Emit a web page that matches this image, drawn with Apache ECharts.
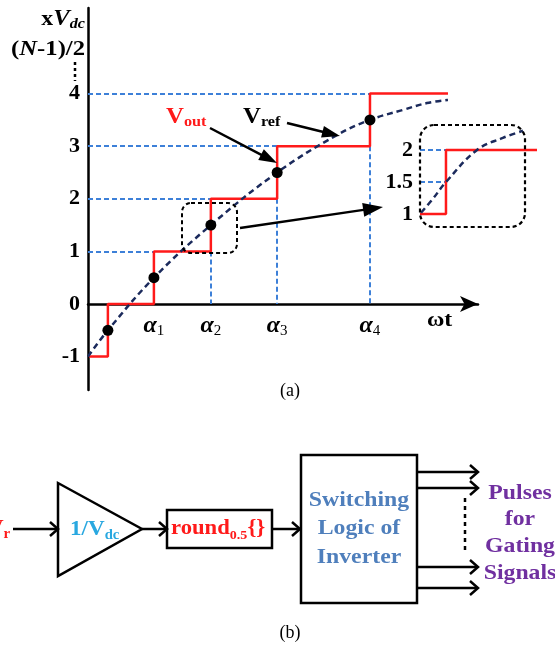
<!DOCTYPE html>
<html><head><meta charset="utf-8">
<script src="https://cdn.jsdelivr.net/npm/echarts@6/dist/echarts.min.js"></script>
<style>html,body{margin:0;padding:0;background:#fff;}#c{width:555px;height:654px;}</style>
</head><body><div id="c"></div>
<script>
// ---- data ----
const stepX = [0.3, 5.1, 16.9, 31.5, 48.5, 72.3, 92.3];   // Vout switching angles (ωt units)
const stepY = [-1, 0, 1, 2, 3, 4, 4];                     // Vout levels
const refX = [0, 5.1, 16.9, 31.5, 48.5, 63.8, 72.3, 80.8, 86.9, 92.3];
const refY = [-1, -0.5, 0.5, 1.5, 2.5, 3.21, 3.5, 3.69, 3.82, 3.88];
const dotX = [5.1, 16.9, 31.5, 48.5, 72.3];
const dotY = [-0.5, 0.5, 1.5, 2.5, 3.5];
const yTicks = [-1, 0, 1, 2, 3, 4];
const alphaX = [16.9, 31.5, 48.5, 72.3];
const alphaNames = ['1', '2', '3', '4'];
const insetStepX = [0, 22.2, 100];
const insetStepY = [1, 2, 2];
const insetRefX = [0.9, 11.1, 22.2, 48.7, 70.9, 88];
const insetRefY = [1.02, 1.24, 1.5, 2.0, 2.19, 2.3];
const insetTicks = [1, 1.5, 2];

const SERIF = '"Liberation Serif","Times New Roman",serif';
const BLUE = '#3d80d8', NAVY = '#1b2a5c', RED = '#ff1a1a', BLACK = '#000';
const zip = (a, b) => a.map((v, i) => [v, b[i]]);

// guide lines derived from the staircase
const guides = [];
for (let k = 1; k < stepY.length; k++) {
  const lvl = stepY[k];
  if (lvl <= 0 || lvl === stepY[k - 1]) continue;
  guides.push({ coords: [[0, lvl], [stepX[k], lvl]] });
  if (lvl - 1 > 0) guides.push({ coords: [[stepX[k], lvl - 1], [stepX[k], 0]] });
}
const insetGuides = [];
for (let k = 1; k < insetStepY.length; k++) {
  if (insetStepY[k] === insetStepY[k - 1]) continue;
  const mid = (insetStepY[k] + insetStepY[k - 1]) / 2;
  insetGuides.push({ coords: [[0, insetStepY[k]], [insetStepX[k], insetStepY[k]]] });
  insetGuides.push({ coords: [[0, mid], [insetStepX[k], mid]] });
}

// ---- drawing helpers for annotations ----
function filledArrow(x1, y1, x2, y2, len, hw) {
  const dx = x2 - x1, dy = y2 - y1, L = Math.hypot(dx, dy), ux = dx / L, uy = dy / L;
  const bx = x2 - ux * len, by = y2 - uy * len;
  return [
    { type: 'line', z: 100, shape: { x1, y1, x2: bx + ux * 2, y2: by + uy * 2 }, style: { stroke: BLACK, lineWidth: 2.5 } },
    { type: 'polygon', z: 100, shape: { points: [[x2, y2], [bx - uy * hw, by + ux * hw], [bx + uy * hw, by - ux * hw]] }, style: { fill: BLACK } }
  ];
}
function chevArrow(x1, x2, y) {
  return [
    { type: 'line', z: 100, shape: { x1, y1: y, x2: x2 - 1, y2: y }, style: { stroke: BLACK, lineWidth: 2.5 } },
    { type: 'polyline', z: 100, shape: { points: [[x2 - 8, y - 7], [x2, y], [x2 - 8, y + 7]] }, style: { stroke: BLACK, lineWidth: 2.5, fill: null } }
  ];
}
function txt(x, y, text, opt, sx) {
  return { type: 'text', z: 100, x, y, scaleX: sx || 1.08, style: Object.assign({
    text, fill: BLACK, fontFamily: SERIF, fontSize: 22, fontWeight: 'bold', align: 'left', verticalAlign: 'middle'
  }, opt || {}) };
}
const big = (fs, color, italic) => ({ fontSize: fs, fontWeight: 'bold', fontStyle: italic ? 'italic' : 'normal', fontFamily: SERIF, fill: color, color: color, lineHeight: 26 });
const sub = (fs, color, italic) => ({ fontSize: fs, fontWeight: 'bold', fontStyle: italic ? 'italic' : 'normal', fontFamily: SERIF, fill: color, color: color, verticalAlign: 'bottom', lineHeight: fs });

const graphics = [];
// y-axis title
graphics.push(txt(85, 19, '{x|x}{v|V}{s|dc}', { align: 'right', rich: { x: big(22, BLACK), v: big(23, BLACK, true), s: sub(15, BLACK, true) } }));
graphics.push(txt(85, 49, '{a|(}{n|N}{a|-1)/2}', { align: 'right', rich: { a: big(22, BLACK), n: big(22, BLACK, true) } }, 1.12));
graphics.push({ type: 'line', z: 100, shape: { x1: 75, y1: 62, x2: 75, y2: 81 }, style: { stroke: BLACK, lineWidth: 2.5, lineDash: [3, 3] } });
// labels
graphics.push(txt(166, 117, '{v|V}{s|out}', { rich: { v: big(23, RED), s: sub(15, RED) } }));
graphics.push(txt(243, 117, '{v|V}{s|ref}', { rich: { v: big(23, BLACK), s: sub(15, BLACK) } }));
graphics.push(...filledArrow(210, 128, 277, 163, 18, 6));
graphics.push(...filledArrow(287, 123, 340, 136, 18, 6));
graphics.push(...filledArrow(240, 228, 383, 207, 20, 7));
graphics.push(txt(427, 320, 'ωt', { fontSize: 22 }));
graphics.push(txt(290, 391, '(a)', { fontSize: 18, fontWeight: 'normal', align: 'center' }, 1));
// zoom boxes
graphics.push({ type: 'rect', z: 90, shape: { x: 182, y: 203, width: 55, height: 50, r: 9 }, style: { stroke: BLACK, lineWidth: 2, lineDash: [4, 3], fill: null } });
graphics.push({ type: 'rect', z: 90, shape: { x: 420, y: 125, width: 105, height: 102, r: 14 }, style: { stroke: BLACK, lineWidth: 2.2, lineDash: [4, 3], fill: null } });

// ---- block diagram (b) ----
graphics.push(txt(-13, 529, '{v|V}{s|r}', { rich: { v: big(23, RED), s: sub(15, RED) } }, 1));
graphics.push(...chevArrow(13, 58, 529));
graphics.push({ type: 'polygon', z: 95, shape: { points: [[58, 483], [58, 576], [142, 529]] }, style: { stroke: BLACK, lineWidth: 2.5, fill: '#fff' } });
graphics.push(txt(70, 529, '{v|1/V}{s|dc}', { rich: { v: big(22, '#29a8e0'), s: sub(14, '#29a8e0') } }, 1.05));
graphics.push(...chevArrow(142, 167, 529));
graphics.push({ type: 'rect', z: 95, shape: { x: 167, y: 510, width: 105, height: 38 }, style: { stroke: BLACK, lineWidth: 2.5, fill: '#fff' } });
graphics.push(txt(171, 529, '{v|round}{s|0.5}{}', { fill: RED, fontSize: 21, rich: { v: big(21, RED), s: sub(13, RED) } }, 1.08));
graphics.push(...chevArrow(272, 300, 529));
graphics.push({ type: 'rect', z: 95, shape: { x: 301, y: 455, width: 116, height: 148 }, style: { stroke: BLACK, lineWidth: 2.5, fill: '#fff' } });
['Switching', 'Logic of', 'Inverter'].forEach((t, i) => graphics.push(txt(359, 500 + i * 28.5, t, { align: 'center', fill: '#4f7fbc' })));
[472, 488, 567, 588].forEach(y => graphics.push(...chevArrow(417, 478, y)));
graphics.push({ type: 'line', z: 100, shape: { x1: 465, y1: 498, x2: 465, y2: 553 }, style: { stroke: BLACK, lineWidth: 2.5, lineDash: [4, 4] } });
['Pulses', 'for', 'Gating', 'Signals'].forEach((t, i) => graphics.push(txt(520, 493 + i * 26.8, t, { align: 'center', fill: '#7030a0' })));
graphics.push(txt(290, 633, '(b)', { fontSize: 18, fontWeight: 'normal', align: 'center' }, 1));

const chart = echarts.init(document.getElementById('c'));
chart.setOption({
  animation: false,
  backgroundColor: '#fff',
  grid: [
    { left: 88, top: 8, width: 390, height: 382 },
    { left: 420, top: 120, width: 117, height: 110 }
  ],
  xAxis: [
    { type: 'value', gridIndex: 0, min: 0, max: 100,
      axisLine: { show: true, onZero: true, symbol: ['none', 'arrow'], symbolSize: [12, 18], lineStyle: { color: BLACK, width: 2.5 } },
      axisTick: { show: false }, splitLine: { show: false }, axisLabel: { show: false } },
    { type: 'value', gridIndex: 1, min: 0, max: 100, show: false }
  ],
  yAxis: [
    { type: 'value', gridIndex: 0, min: -1.635, max: 5.627,
      axisLine: { show: true, onZero: false, lineStyle: { color: BLACK, width: 2.5 } },
      axisTick: { show: false }, splitLine: { show: false },
      axisLabel: { customValues: yTicks, margin: 8, color: BLACK, fontSize: 22, fontWeight: 'bold', fontFamily: SERIF } },
    { type: 'value', gridIndex: 1, min: 0.75, max: 2.469,
      axisLine: { show: false }, axisTick: { show: false }, splitLine: { show: false },
      axisLabel: { customValues: insetTicks, margin: 7, color: BLACK, fontSize: 22, fontWeight: 'bold', fontFamily: SERIF } }
  ],
  series: [
    { type: 'lines', coordinateSystem: 'cartesian2d', xAxisIndex: 0, yAxisIndex: 0, polyline: false, silent: true, z: 1,
      lineStyle: { color: BLUE, width: 2, type: [5, 3], opacity: 1, curveness: 0 }, data: guides },
    { type: 'line', xAxisIndex: 0, yAxisIndex: 0, step: 'end', showSymbol: false, z: 2,
      lineStyle: { color: RED, width: 2.5 }, data: zip(stepX, stepY) },
    { type: 'line', xAxisIndex: 0, yAxisIndex: 0, smooth: 0.4, showSymbol: false, z: 3,
      lineStyle: { color: NAVY, width: 2.5, type: [6, 4] }, data: zip(refX, refY) },
    { type: 'scatter', xAxisIndex: 0, yAxisIndex: 0, symbolSize: 11, z: 4,
      itemStyle: { color: BLACK, opacity: 1 }, data: zip(dotX, dotY) },
    // α tick labels on the ωt axis
    { type: 'scatter', xAxisIndex: 0, yAxisIndex: 0, symbolSize: 2, silent: true, z: 5,
      itemStyle: { color: 'rgba(0,0,0,0)', opacity: 1 }, data: alphaX.map(x => [x, 0]),
      label: { show: true, position: 'bottom', distance: 8, opacity: 1,
        formatter: p => '{a|α}{s|' + alphaNames[p.dataIndex] + '}',
        rich: { a: { fontSize: 24, fontStyle: 'italic', fontWeight: 'bold', fontFamily: SERIF, color: BLACK, lineHeight: 26 },
                s: { fontSize: 15, fontFamily: SERIF, color: BLACK, verticalAlign: 'bottom', lineHeight: 15 } } } },
    { type: 'lines', coordinateSystem: 'cartesian2d', xAxisIndex: 1, yAxisIndex: 1, polyline: false, silent: true, z: 1,
      lineStyle: { color: BLUE, width: 2, type: [5, 3], opacity: 1, curveness: 0 }, data: insetGuides },
    { type: 'line', xAxisIndex: 1, yAxisIndex: 1, step: 'end', showSymbol: false, z: 2,
      lineStyle: { color: RED, width: 2.5 }, data: zip(insetStepX, insetStepY) },
    { type: 'line', xAxisIndex: 1, yAxisIndex: 1, smooth: 0.4, showSymbol: false, z: 3,
      lineStyle: { color: NAVY, width: 2.5, type: [6, 4] }, data: zip(insetRefX, insetRefY) }
  ],
  graphic: { elements: graphics }
});
</script>
</body></html>
